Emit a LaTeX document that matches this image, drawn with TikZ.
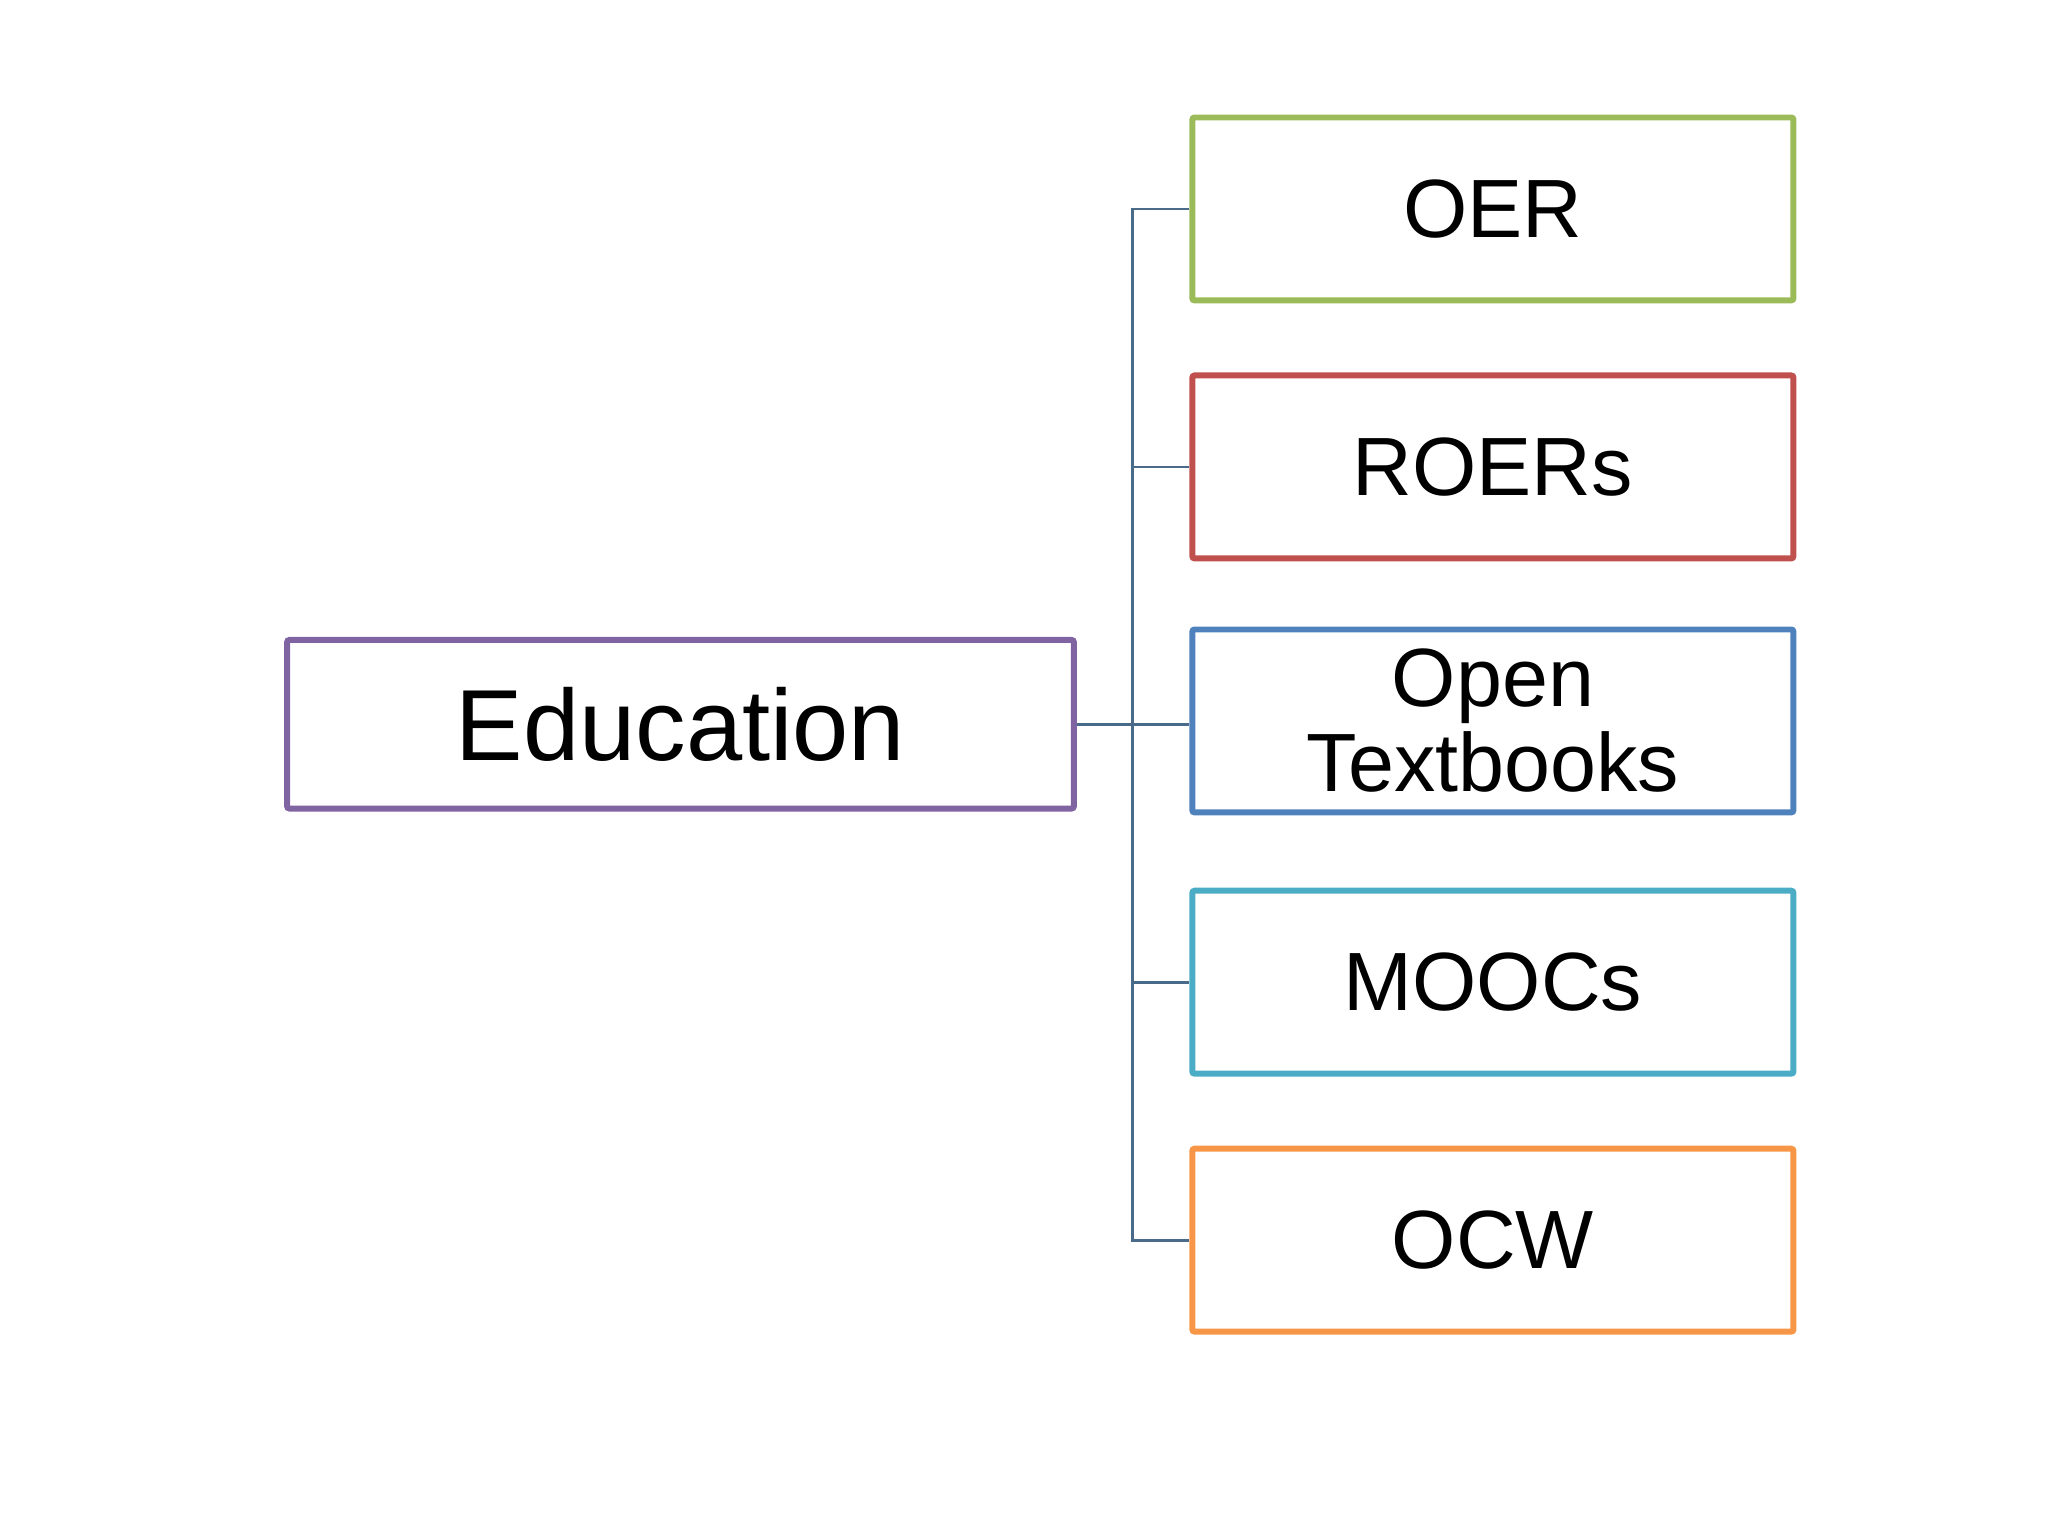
\documentclass[tikz,border=0pt]{standalone}
\usepackage{fontspec}
\setmainfont{Liberation Sans}
\usetikzlibrary{positioning}
\definecolor{cgreen}{HTML}{9BBB59}
\definecolor{cred}{HTML}{C0504D}
\definecolor{cblue}{HTML}{4F81BD}
\definecolor{cteal}{HTML}{4BACC6}
\definecolor{corange}{HTML}{F79646}
\definecolor{cpurple}{HTML}{8064A2}
\definecolor{cline}{HTML}{4A6A8A}
\begin{document}
\begin{tikzpicture}[x=0.01cm,y=-0.01cm,
    item/.style={draw, line width=1.3pt, rounded corners=0.5pt, minimum width=4.6cm, minimum height=1.4cm,
      align=center, font=\fontsize{18}{18.5}\selectfont, inner sep=0pt},
    link/.style={draw=cline, line width=0.6pt}]
    \useasboundingbox (0,0) rectangle (1568,1176);

    \node[draw=cpurple, line width=1.3pt, rounded corners=0.5pt, minimum width=6.02cm, minimum height=1.29cm,
      font=\fontsize{22}{24}\selectfont] (edu) at (521,554.5) {Education};
    \node[item, draw=cgreen] (oer) at (1143,160) {OER};
    \node[item, draw=cred] (roers) at (1143,357.5) {ROERs};
    \node[item, draw=cblue] (open) at (1143,552) {Open\\Textbooks};
    \node[item, draw=cteal, minimum height=1.4cm] (moocs) at (1143,752) {MOOCs};
    \node[item, draw=corange] (ocw) at (1143,949.5) {OCW};

    \coordinate (trunk) at (867,554.5);
    \draw[link] (edu.east) -- (trunk);
    \foreach \n in {oer,roers,moocs,ocw}
      \draw[link] (trunk) |- (\n.west);
    \draw[link] (trunk) -- (trunk -| open.west);
\end{tikzpicture}
\end{document}
